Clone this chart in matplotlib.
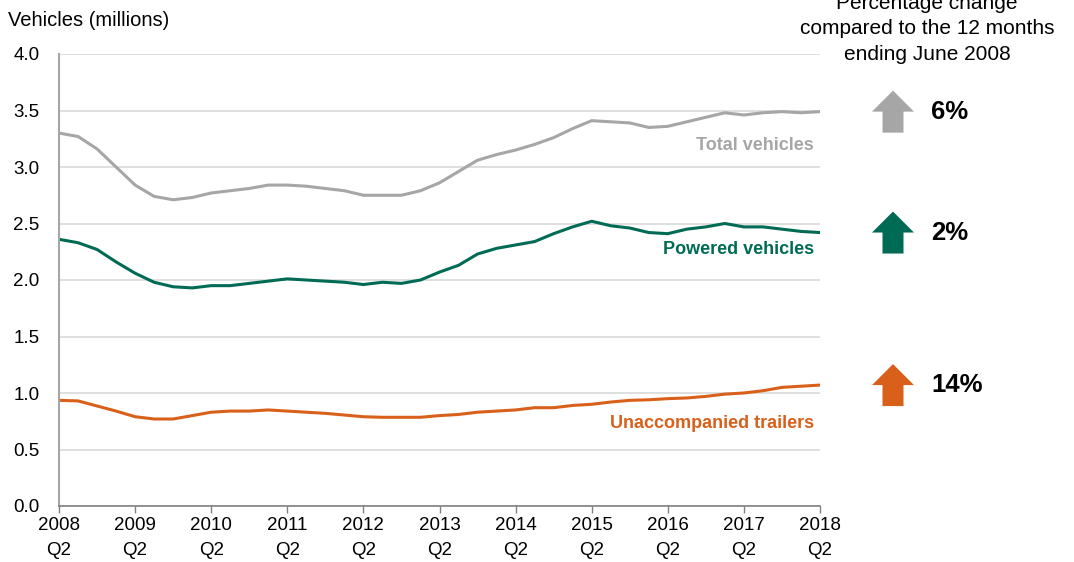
import numpy as np
import matplotlib.pyplot as plt
from matplotlib.patches import Polygon
from matplotlib import transforms

plt.rcParams['font.family'] = ['Liberation Sans', 'DejaVu Sans']

# quarterly figures, 2008 Q2 .. 2018 Q2 (millions of vehicles)
total = [3.30, 3.27, 3.16, 3.00, 2.84, 2.74, 2.71, 2.73, 2.77, 2.79,
         2.81, 2.84, 2.84, 2.83, 2.81, 2.79, 2.75, 2.75, 2.75, 2.79,
         2.86, 2.96, 3.06, 3.11, 3.15, 3.20, 3.26, 3.34, 3.41, 3.40,
         3.39, 3.35, 3.36, 3.40, 3.44, 3.48, 3.46, 3.48, 3.49, 3.48, 3.49]
powered = [2.36, 2.33, 2.27, 2.16, 2.06, 1.98, 1.94, 1.93, 1.95, 1.95,
           1.97, 1.99, 2.01, 2.00, 1.99, 1.98, 1.96, 1.98, 1.97, 2.00,
           2.07, 2.13, 2.23, 2.28, 2.31, 2.34, 2.41, 2.47, 2.52, 2.48,
           2.46, 2.42, 2.41, 2.45, 2.47, 2.50, 2.47, 2.47, 2.45, 2.43, 2.42]
trailers = [0.935, 0.93, 0.885, 0.84, 0.79, 0.77, 0.77, 0.80, 0.83, 0.84,
            0.84, 0.85, 0.84, 0.83, 0.82, 0.805, 0.79, 0.785, 0.785, 0.785,
            0.80, 0.81, 0.83, 0.84, 0.85, 0.87, 0.87, 0.89, 0.90, 0.92,
            0.935, 0.94, 0.95, 0.956, 0.97, 0.99, 1.00, 1.02, 1.05, 1.06, 1.07]
years = list(range(2008, 2019))
series_names = ['Total vehicles', 'Powered vehicles', 'Unaccompanied trailers']
pct_change = ['6%', '2%', '14%']
colors = ['#A6A6A6', '#006B54', '#D9601A']

x = np.arange(len(total))

fig = plt.figure(figsize=(10.74, 5.62), dpi=100)
ax = fig.add_axes([59/1074, 1-506/562, 761/1074, 452/562])

for vals, c in zip([total, powered, trailers], colors):
    ax.plot(x, vals, color=c, lw=2.2, solid_capstyle='round')

ax.set_xlim(0, len(x)-1)
ax.set_ylim(0, 4)
ax.set_yticks(np.arange(0, 4.01, 0.5))
ax.set_yticklabels(['%.1f' % v for v in np.arange(0, 4.01, 0.5)])
ax.set_xticks(np.arange(0, len(x), 4))
ax.set_xticklabels(['%d\nQ2' % y for y in years])
for lbl in ax.get_xticklabels():
    lbl.set_linespacing(1.6)
ax.grid(axis='y', color='#D9D9D9', lw=1.2)
ax.set_axisbelow(True)
ax.tick_params(axis='y', length=0, pad=14, labelsize=13.5)
ax.tick_params(axis='x', length=5, width=1, color='#808080', pad=3, labelsize=13.5)
for s in ['top', 'right']:
    ax.spines[s].set_visible(False)
ax.spines['left'].set_color('#A6A6A6')
ax.spines['left'].set_linewidth(1.5)
ax.spines['bottom'].set_color('#808080')
ax.spines['bottom'].set_linewidth(1.2)

fig.text(8/1074, 1-20/562, 'Vehicles (millions)', fontsize=14.5, va='center', ha='left')

# series labels
label_y = [145, 250, 424]
for name, c, yp in zip(series_names, colors, label_y):
    fig.text(814/1074, 1-yp/562, name, color=c, fontsize=13, fontweight='bold',
             ha='right', va='center')

# right panel (top line is cut off by the edge, as in the original)
fig.text(927/1074, 1-29/562, 'Percentage change\ncompared to the 12 months\nending June 2008',
         fontsize=15, ha='center', va='center', linespacing=1.45)

trans = transforms.blended_transform_factory(ax.transAxes, ax.transData)
cx = (893-59)/761
hw = 21/761
sw = 10.5/761
hh = 21/113
for vals, c, p in zip([total, powered, trailers], colors, pct_change):
    cy = vals[-1]
    pts = [(cx, cy+hh), (cx+hw, cy), (cx+sw, cy), (cx+sw, cy-hh),
           (cx-sw, cy-hh), (cx-sw, cy), (cx-hw, cy)]
    ax.add_patch(Polygon(pts, closed=True, color=c, transform=trans, clip_on=False, lw=0))
    ax.text((931-59)/761, cy, p, transform=trans, fontsize=18.5, fontweight='bold',
            ha='left', va='center')

fig.savefig('out.png', dpi=100)
